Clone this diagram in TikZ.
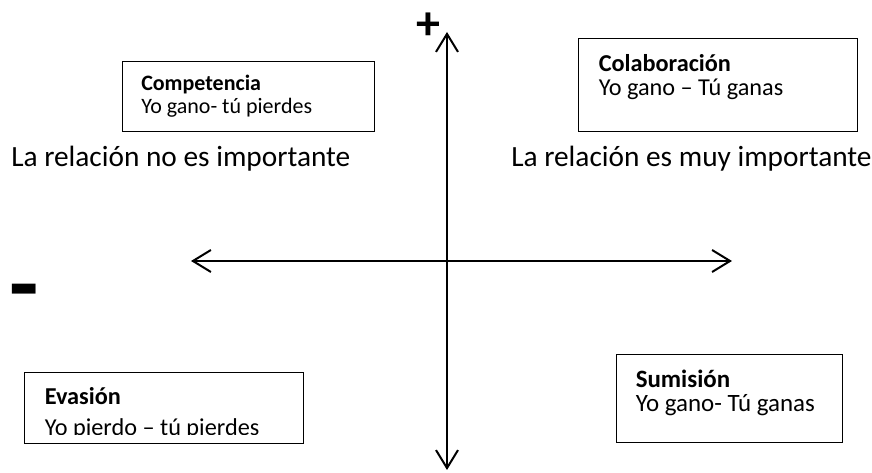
\documentclass[tikz,border=0pt]{standalone}
\usepackage{fontspec}
\setmainfont{Carlito}
\usetikzlibrary{arrows.meta}

\begin{document}
\begin{tikzpicture} [x = 0.75pt, y = -0.75pt,
  >={Straight Barb[length = 13.5pt, width = 16.5pt]},
  axis/.style = {line width = 1.5pt, <->},
  quad/.style = {draw, line width = 0.9pt, anchor = north west, inner sep = 0pt},
  txt/.style = {anchor = base west, inner sep = 0pt, font = \fontsize{#1}{#1}\selectfont},
  head/.style = {anchor = base west, inner sep = 0pt, font = \fontsize{#1}{#1}\selectfont\bfseries},
  sign/.style = {anchor = north, inner sep = 0pt, font = \fontsize{#1}{#1}\selectfont\bfseries}]
\useasboundingbox (0, 0) rectangle (872, 473);
% axes
\coordinate (top) at (447, 32);
\coordinate (bottom) at (447, 470);
\coordinate (left) at (191, 261);
\coordinate (right) at (732, 261);
\draw[axis] (bottom) -- (top);
\draw[axis] (left) -- (right);
\node[sign = 36] (plus) at (428.5, 13){+};
\node[sign = 72] (minus) at (24.5, 283.5){-};
\node[txt = 22] (notimp) at (11, 166.7){La relación no es importante};
\node[txt = 22] (veryimp) at (511, 166.7){La relación es muy importante};
% competencia
\node[quad, minimum width = 189pt, minimum height = 52.5pt] (comp) at (122, 61){};
\node[head = 16.5] (comptitle) at (141, 90.7){Competencia};
\node[txt = 16.5] (compsub) at (141, 113.3){Yo gano- tú pierdes};
% colaboracion
\node[quad, minimum width = 209.25pt, minimum height = 69.75pt] (colab) at (578, 38){};
\node[head = 18.2] (colabtitle) at (598.5, 71.7){Colaboración};
\node[txt = 18.2] (colabsub) at (598.5, 95.7){Yo gano – Tú ganas};
% evasion
\node[quad, minimum width = 209.25pt, minimum height = 53.25pt] (evas) at (24, 372){};
\node[head = 18.2] (evastitle) at (44.5, 405){Evasión};
\begin{scope}
\clip (evas.north west) rectangle ([yshift = 7.5pt]evas.south east);
\node[txt = 18.2] (evassub) at (44.5, 436){Yo pierdo – tú pierdes};
\end{scope}
% sumision
\node[quad, minimum width = 169.5pt, minimum height = 66pt] (sumis) at (616, 354){};
\node[head = 18.7] (sumistitle) at (635.5, 387.7){Sumisión};
\node[txt = 18.7] (sumissub) at (635.5, 411.7){Yo gano- Tú ganas};
\end{tikzpicture}
\end{document}
